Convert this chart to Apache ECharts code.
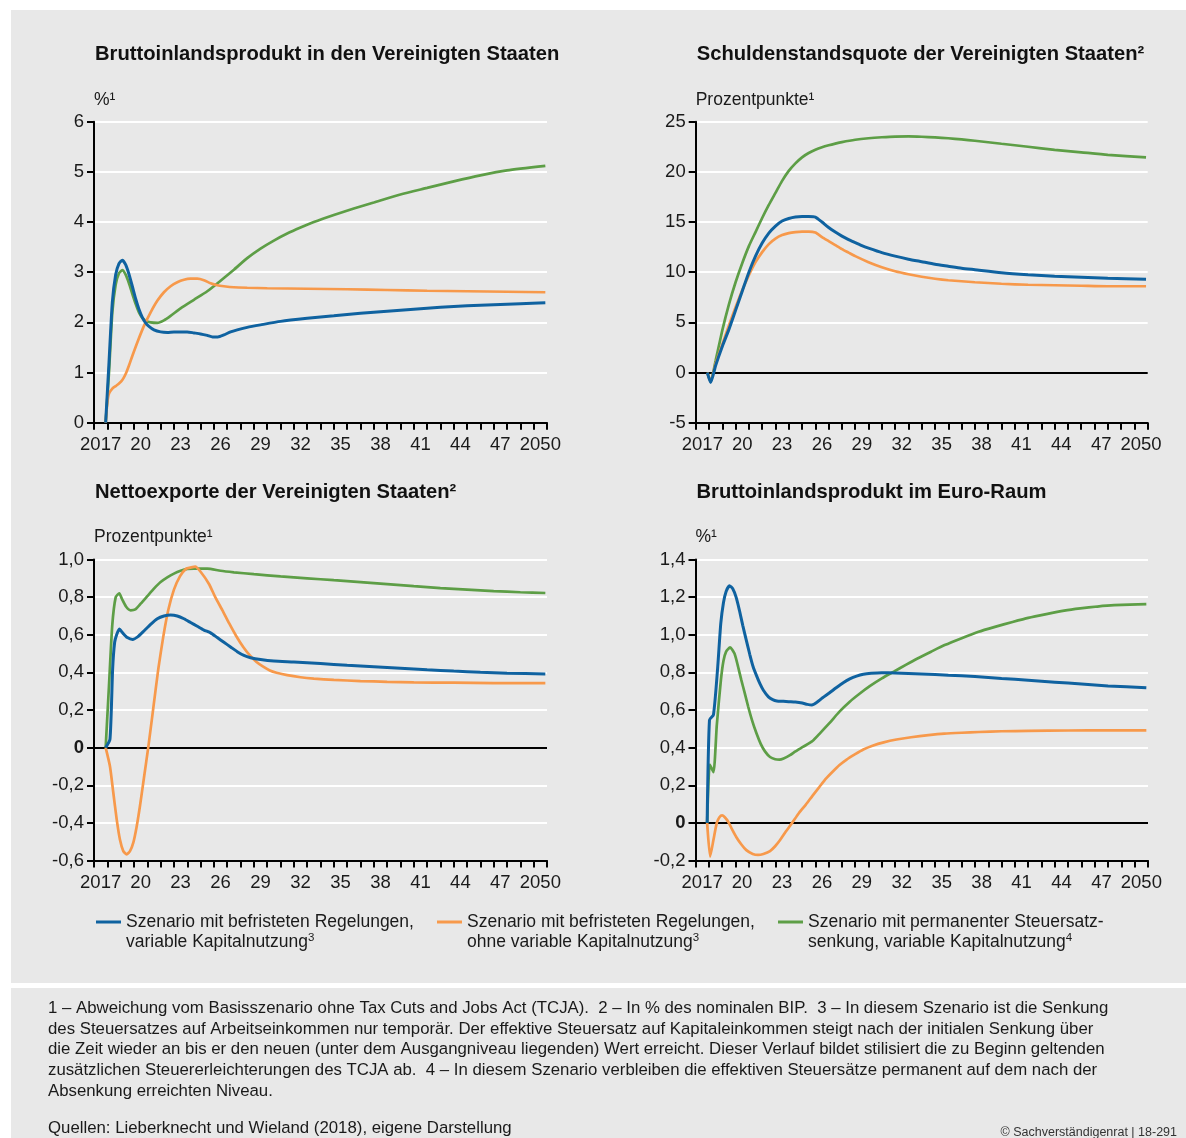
<!DOCTYPE html>
<html><head><meta charset="utf-8">
<script src="https://cdn.jsdelivr.net/npm/echarts@6/dist/echarts.min.js"></script>
<style>html,body{margin:0;padding:0;background:#fff;}#c{width:1186px;height:1138px;}</style>
</head><body><div id="c"></div>
<script>
// ---------- categories & tick labels ----------
const yearCats = [2017,2018,2019,2020,2021,2022,2023,2024,2025,2026,2027,2028,2029,2030,2031,2032,2033,2034,2035,2036,2037,2038,2039,2040,2041,2042,2043,2044,2045,2046,2047,2048,2049,2050];
const xTickYears = [2017,2020,2023,2026,2029,2032,2035,2038,2041,2044,2047,2050];
const xTickLabels = ['2017','20','23','26','29','32','35','38','41','44','47','2050'];

const seriesNames = [
  'Szenario mit befristeten Regelungen,\nvariable Kapitalnutzung³',
  'Szenario mit befristeten Regelungen,\nohne variable Kapitalnutzung³',
  'Szenario mit permanenter Steuersatz-\nsenkung, variable Kapitalnutzung⁴'
];
const seriesColors = ['#0f62a0', '#f7994b', '#5d9e46'];

// ---------- data: [year (decimal), value] ----------
// Bruttoinlandsprodukt USA (%)
const usGdpTemp = [[2017.875,0],[2018.125,1.2],[2018.375,2.4],[2018.625,2.95],[2018.875,3.17],[2019.125,3.24],[2019.375,3.15],[2019.625,2.96],[2019.875,2.72],[2020.125,2.47],[2020.375,2.26],[2020.625,2.1],[2020.875,1.99],[2021.125,1.92],[2021.5,1.85],[2022,1.81],[2022.5,1.8],[2023,1.81],[2023.5,1.81],[2024,1.81],[2024.5,1.79],[2025,1.77],[2025.5,1.74],[2025.9,1.71],[2026.3,1.71],[2026.75,1.75],[2027.25,1.81],[2027.75,1.85],[2028.5,1.9],[2029.5,1.95],[2031,2.02],[2033,2.08],[2035,2.13],[2037,2.18],[2039,2.22],[2041,2.26],[2043,2.3],[2045,2.33],[2047,2.35],[2049,2.37],[2050.875,2.39]];
const usGdpNoVar = [[2017.875,0],[2018.0,0.4],[2018.125,0.58],[2018.375,0.68],[2018.625,0.73],[2018.875,0.78],[2019.125,0.85],[2019.375,0.97],[2019.625,1.14],[2019.875,1.33],[2020.25,1.6],[2020.75,1.93],[2021.25,2.2],[2021.75,2.43],[2022.25,2.6],[2022.75,2.72],[2023.25,2.8],[2023.75,2.85],[2024.25,2.87],[2024.75,2.87],[2025.25,2.84],[2025.75,2.78],[2026.25,2.74],[2026.75,2.72],[2027.5,2.7],[2028.5,2.69],[2030,2.68],[2033,2.67],[2036,2.66],[2039,2.645],[2042,2.63],[2045,2.62],[2048,2.61],[2050.875,2.6]];
const usGdpPerm = [[2017.875,0],[2018.125,1.0],[2018.375,2.2],[2018.625,2.75],[2018.875,2.98],[2019.125,3.04],[2019.375,2.95],[2019.625,2.78],[2019.875,2.57],[2020.125,2.37],[2020.375,2.2],[2020.625,2.09],[2020.875,2.03],[2021.25,2.0],[2021.75,1.99],[2022.25,2.04],[2022.75,2.13],[2023.5,2.28],[2024.5,2.45],[2025.5,2.62],[2026.5,2.83],[2027.5,3.05],[2028.5,3.28],[2029.5,3.47],[2030.5,3.63],[2031.5,3.77],[2032.5,3.89],[2033.5,4.0],[2035,4.14],[2036.5,4.27],[2038,4.39],[2040,4.55],[2042,4.68],[2044,4.81],[2046,4.93],[2048,5.03],[2050.875,5.12]];

// Schuldenstandsquote USA (Prozentpunkte)
const usDebtTemp = [[2017.875,0],[2018.125,-1.0],[2018.5,0.7],[2019,2.6],[2019.5,4.3],[2020,6.2],[2020.5,8.1],[2021,10.0],[2021.5,11.6],[2022,12.9],[2022.5,13.9],[2023,14.6],[2023.5,15.1],[2024,15.35],[2024.5,15.5],[2025,15.55],[2025.5,15.55],[2026,15.5],[2026.5,15.0],[2027,14.45],[2027.5,14.0],[2028,13.6],[2028.5,13.25],[2029,12.95],[2029.5,12.65],[2030,12.4],[2031,11.95],[2032,11.6],[2033,11.3],[2034,11.05],[2035,10.8],[2036,10.6],[2037,10.4],[2038,10.25],[2040,9.95],[2042,9.75],[2044,9.6],[2046,9.5],[2048,9.4],[2050.875,9.3]];
const usDebtNoVar = [[2017.875,0],[2018.125,-0.9],[2018.5,0.9],[2019,2.8],[2019.5,4.7],[2020,6.5],[2020.5,8.2],[2021,9.7],[2021.5,11.0],[2022,12.0],[2022.5,12.8],[2023,13.35],[2023.5,13.7],[2024,13.9],[2024.5,14.0],[2025,14.05],[2025.5,14.05],[2026,13.95],[2026.5,13.5],[2027,13.1],[2027.5,12.7],[2028,12.3],[2028.5,11.95],[2029,11.6],[2030,11.0],[2031,10.5],[2032,10.1],[2033,9.8],[2034,9.55],[2035,9.35],[2036,9.2],[2038,9.0],[2040,8.85],[2042,8.75],[2044,8.7],[2046,8.65],[2048,8.6],[2050.875,8.6]];
const usDebtPerm = [[2017.875,0],[2018.125,-0.9],[2018.5,1.2],[2019,4.2],[2019.5,6.8],[2020,9.0],[2020.5,10.9],[2021,12.6],[2021.5,14.0],[2022,15.4],[2022.5,16.7],[2023,17.9],[2023.5,19.1],[2024,20.1],[2024.5,20.85],[2025,21.45],[2025.5,21.88],[2026,22.2],[2026.5,22.45],[2027,22.65],[2027.5,22.82],[2028,22.97],[2029,23.2],[2030,23.35],[2031,23.45],[2032,23.52],[2033,23.53],[2034,23.5],[2035,23.44],[2036,23.35],[2037,23.23],[2038,23.1],[2040,22.8],[2042,22.5],[2044,22.2],[2046,21.95],[2048,21.7],[2050.875,21.45]];

// Nettoexporte USA (Prozentpunkte)
const nxTemp = [[2017.875,0],[2018.2,0.045],[2018.4,0.42],[2018.55,0.56],[2018.7,0.6],[2018.9,0.63],[2019.15,0.61],[2019.5,0.585],[2019.9,0.575],[2020.3,0.59],[2020.75,0.62],[2021.25,0.655],[2021.75,0.685],[2022.25,0.70],[2022.75,0.705],[2023.25,0.70],[2023.75,0.685],[2024.25,0.665],[2024.75,0.645],[2025.25,0.625],[2025.75,0.61],[2026.25,0.585],[2026.75,0.56],[2027.25,0.535],[2027.75,0.51],[2028.25,0.49],[2028.75,0.478],[2029.5,0.468],[2030.5,0.46],[2032,0.455],[2034,0.447],[2036,0.438],[2038,0.43],[2040,0.422],[2042,0.414],[2044,0.407],[2046,0.401],[2048,0.396],[2050.875,0.392]];
const nxNoVar = [[2017.875,0],[2018.2,-0.1],[2018.45,-0.24],[2018.7,-0.38],[2018.95,-0.49],[2019.2,-0.55],[2019.45,-0.567],[2019.7,-0.55],[2019.95,-0.505],[2020.2,-0.42],[2020.45,-0.31],[2020.75,-0.16],[2021.07,0],[2021.45,0.21],[2021.82,0.415],[2022.2,0.59],[2022.57,0.73],[2023.0,0.84],[2023.45,0.91],[2023.9,0.95],[2024.3,0.958],[2024.6,0.962],[2025.0,0.935],[2025.63,0.87],[2026.1,0.80],[2026.64,0.73],[2027.15,0.66],[2027.66,0.595],[2028.2,0.535],[2028.7,0.49],[2029.2,0.455],[2029.7,0.43],[2030.2,0.41],[2030.7,0.398],[2031.5,0.385],[2032.5,0.374],[2033.5,0.367],[2035,0.36],[2037,0.354],[2039,0.35],[2041,0.347],[2044,0.345],[2047,0.343],[2050.875,0.343]];
const nxPerm = [[2017.875,0],[2018.125,0.33],[2018.37,0.65],[2018.63,0.80],[2018.9,0.82],[2019.1,0.79],[2019.4,0.75],[2019.75,0.73],[2020.1,0.735],[2020.5,0.765],[2021,0.805],[2021.5,0.845],[2022,0.88],[2022.5,0.905],[2023,0.925],[2023.5,0.94],[2024,0.95],[2024.5,0.952],[2025.5,0.952],[2026.5,0.94],[2027.5,0.932],[2029,0.922],[2031,0.91],[2033,0.9],[2035,0.89],[2037,0.88],[2039,0.869],[2041,0.858],[2043,0.848],[2045,0.84],[2047,0.832],[2049,0.826],[2050.875,0.822]];

// Bruttoinlandsprodukt Euro-Raum (%)
const euTemp = [[2017.875,0],[2018.05,0.547],[2018.35,0.575],[2018.66,0.82],[2018.9,1.06],[2019.1,1.17],[2019.3,1.23],[2019.55,1.26],[2019.8,1.245],[2020.05,1.2],[2020.3,1.13],[2020.55,1.05],[2020.82,0.97],[2021.08,0.895],[2021.33,0.83],[2021.6,0.78],[2021.84,0.74],[2022.1,0.705],[2022.48,0.67],[2022.8,0.655],[2023.11,0.648],[2023.6,0.646],[2024.0,0.644],[2024.5,0.642],[2025.02,0.637],[2025.4,0.63],[2025.75,0.627],[2026.1,0.64],[2026.55,0.665],[2027.05,0.69],[2027.57,0.718],[2028.1,0.745],[2028.59,0.765],[2029.1,0.78],[2029.61,0.79],[2030.2,0.795],[2031,0.798],[2032,0.797],[2034,0.792],[2036,0.785],[2038,0.778],[2040,0.768],[2042,0.758],[2044,0.748],[2046,0.738],[2048,0.728],[2050.875,0.718]];
const euNoVar = [[2017.875,0],[2018.1,-0.179],[2018.35,-0.09],[2018.6,0.0],[2018.8,0.03],[2019.0,0.04],[2019.2,0.03],[2019.47,0.005],[2019.75,-0.035],[2020.06,-0.075],[2020.45,-0.115],[2020.82,-0.145],[2021.3,-0.165],[2021.7,-0.17],[2022.1,-0.165],[2022.6,-0.15],[2023.0,-0.123],[2023.37,-0.09],[2023.8,-0.045],[2024.26,0.0],[2024.75,0.05],[2025.28,0.096],[2025.8,0.145],[2026.3,0.19],[2026.8,0.235],[2027.32,0.273],[2027.8,0.306],[2028.33,0.335],[2029,0.365],[2029.61,0.39],[2030.3,0.41],[2031.14,0.428],[2032.1,0.443],[2033.2,0.455],[2034.5,0.466],[2035.7,0.474],[2037,0.479],[2038.3,0.483],[2040,0.487],[2042,0.489],[2045,0.491],[2048,0.492],[2050.875,0.492]];
const euPerm = [[2017.875,0],[2018.07,0.31],[2018.35,0.27],[2018.6,0.52],[2018.91,0.76],[2019.1,0.86],[2019.3,0.91],[2019.6,0.933],[2019.93,0.90],[2020.2,0.83],[2020.44,0.76],[2020.7,0.69],[2020.95,0.62],[2021.25,0.545],[2021.58,0.476],[2021.9,0.42],[2022.22,0.38],[2022.6,0.35],[2022.99,0.338],[2023.3,0.336],[2023.62,0.342],[2024.1,0.36],[2024.51,0.38],[2025.1,0.405],[2025.79,0.435],[2026.4,0.48],[2027.06,0.53],[2027.8,0.59],[2028.59,0.644],[2029.3,0.685],[2030.12,0.728],[2031,0.768],[2031.9,0.804],[2032.8,0.84],[2033.68,0.874],[2034.7,0.91],[2035.72,0.945],[2037,0.982],[2038.27,1.016],[2039.5,1.042],[2040.82,1.068],[2042,1.09],[2043.36,1.11],[2044.7,1.128],[2045.91,1.14],[2047.2,1.15],[2048.46,1.157],[2050.875,1.163]];

// ---------- panels ----------
const panels = [
  {title:'Bruttoinlandsprodukt in den Vereinigten Staaten', unit:'%¹', min:0, max:6, interval:1, zeroIdx:-1, dec:0,
   data:[usGdpTemp, usGdpNoVar, usGdpPerm], left:94, top:121.7, width:453},
  {title:'Schuldenstandsquote der Vereinigten Staaten²', unit:'Prozentpunkte¹', min:-5, max:25, interval:5, zeroIdx:1, dec:0,
   data:[usDebtTemp, usDebtNoVar, usDebtPerm], left:695.7, top:121.7, width:452},
  {title:'Nettoexporte der Vereinigten Staaten²', unit:'Prozentpunkte¹', min:-0.6, max:1.0, interval:0.2, zeroIdx:3, dec:1,
   data:[nxTemp, nxNoVar, nxPerm], left:94, top:559.5, width:453},
  {title:'Bruttoinlandsprodukt im Euro-Raum', unit:'%¹', min:-0.2, max:1.4, interval:0.2, zeroIdx:1, dec:1,
   data:[euTemp, euNoVar, euPerm], left:695.5, top:559.5, width:452.5}
];

const FONT = "'Liberation Sans', Arial, sans-serif";
const TXT = '#1a1a1a';
const GRID_H = 301;

const titles = [], grids = [], xAxes = [], yAxes = [], series = [];
panels.forEach((p, i) => {
  titles.push({text:p.title, left:p.left + 1, top:p.top - 77, padding:0,
    textStyle:{fontFamily:FONT, fontSize:20.2, fontWeight:'bold', color:'#111'}});
  grids.push({left:p.left, top:p.top, width:p.width, height:GRID_H, containLabel:false});
  xAxes.push({type:'category', gridIndex:i, data:yearCats, boundaryGap:true, position:'bottom',
    axisLine:{show:true, onZero:false, lineStyle:{color:'#000', width:2}},
    axisTick:{show:true, interval:0, length:7, lineStyle:{color:'#000', width:2}},
    axisLabel:{interval:0, hideOverlap:false, margin:13, fontFamily:FONT, fontSize:18.5, color:TXT,
      formatter:(v)=>{const k = xTickYears.indexOf(+v); return k >= 0 ? xTickLabels[k] : '';}},
    splitLine:{show:false}});
  xAxes.push({type:'value', gridIndex:i, min:2017, max:2051, show:false});
  const nLines = Math.round((p.max - p.min) / p.interval) + 1;
  const lineColors = [];
  for (let k = 0; k < nLines; k++) lineColors.push(k === p.zeroIdx ? '#000' : '#fff');
  yAxes.push({type:'value', gridIndex:i, min:p.min, max:p.max, interval:p.interval,
    name:p.unit, nameLocation:'end', nameGap:13,
    nameTextStyle:{align:'left', fontFamily:FONT, fontSize:17.5, color:TXT},
    axisLine:{show:true, onZero:false, lineStyle:{color:'#000', width:2}},
    axisTick:{show:true, length:7, lineStyle:{color:'#000', width:2}},
    axisLabel:{margin:10, fontFamily:FONT, fontSize:18.5, color:TXT,
      formatter:(v)=>{
        if (Math.abs(v) < 1e-9) return p.dec ? '{b|0}' : '0';
        return p.dec ? v.toFixed(1).replace('.', ',') : String(Math.round(v));
      },
      rich:{b:{fontFamily:FONT, fontSize:18.5, fontWeight:'bold', color:TXT}}},
    splitLine:{show:true, lineStyle:{color:lineColors, width:2}}});
  const order = [2, 1, 0];
  order.forEach((s, zi) => {
    series.push({type:'line', name:seriesNames[s], xAxisIndex:2*i+1, yAxisIndex:i,
      data:p.data[s], showSymbol:false, smooth:0.2, z:2+zi,
      lineStyle:{color:seriesColors[s], width:s === 0 ? 3 : 2.7},
      itemStyle:{color:seriesColors[s]}});
  });
});

// legend icon: a short bar aligned with the first text line (box 25x40)
const legendIcon = 'path://M0,0h0.01v0.01h-0.01z M0,8.5h25v3h-25z M24.99,39.99h0.01v0.01h-0.01z';
const legendLefts = [96, 437, 778];
const legends = seriesNames.map((n, k) => ({
  data:[n], left:legendLefts[k], top:912, orient:'horizontal', padding:0,
  icon:legendIcon, itemWidth:25, itemHeight:40, selectedMode:false, symbolKeepAspect:false,
  formatter:(name)=>name.replace('³', '{s|3}').replace('⁴', '{s|4}'),
  textStyle:{fontFamily:FONT, fontSize:17.5, lineHeight:20, color:TXT,
    rich:{s:{fontFamily:FONT, fontSize:11.5, lineHeight:13, verticalAlign:'top', color:TXT}}}
}));

const footLines = [
  '1 – Abweichung vom Basisszenario ohne Tax Cuts and Jobs Act (TCJA).  2 – In % des nominalen BIP.  3 – In diesem Szenario ist die Senkung',
  'des Steuersatzes auf Arbeitseinkommen nur temporär. Der effektive Steuersatz auf Kapitaleinkommen steigt nach der initialen Senkung über',
  'die Zeit wieder an bis er den neuen (unter dem Ausgangniveau liegenden) Wert erreicht. Dieser Verlauf bildet stilisiert die zu Beginn geltenden',
  'zusätzlichen Steuererleichterungen des TCJA ab.  4 – In diesem Szenario verbleiben die effektiven Steuersätze permanent auf dem nach der',
  'Absenkung erreichten Niveau.'
];
const sourceText = 'Quellen: Lieberknecht und Wieland (2018), eigene Darstellung';
const copyrightText = '© Sachverständigenrat | 18-291';

const graphics = [
  {type:'rect', left:11, top:10, shape:{width:1175, height:973}, style:{fill:'#e8e8e8'}, z:-10, silent:true},
  {type:'rect', left:11, top:988, shape:{width:1175, height:150}, style:{fill:'#e8e8e8'}, z:-10, silent:true}
];
footLines.forEach((t, k) => graphics.push({type:'text', x:48, y:1008.5 + k*20.6, silent:true,
  style:{text:t, fontFamily:FONT, fontSize:16.8, fill:TXT, verticalAlign:'middle', align:'left'}}));
graphics.push({type:'text', x:48, y:1128, silent:true,
  style:{text:sourceText, fontFamily:FONT, fontSize:16.8, fill:TXT, verticalAlign:'middle', align:'left'}});
graphics.push({type:'text', x:1177, y:1133, silent:true,
  style:{text:copyrightText, fontFamily:FONT, fontSize:12.5, fill:'#333', verticalAlign:'middle', align:'right'}});

const chart = echarts.init(document.getElementById('c'), null, {renderer:'canvas'});
chart.setOption({
  animation:false,
  backgroundColor:'#ffffff',
  title:titles, grid:grids, xAxis:xAxes, yAxis:yAxes, series:series,
  legend:legends, graphic:graphics
});
</script></body></html>
